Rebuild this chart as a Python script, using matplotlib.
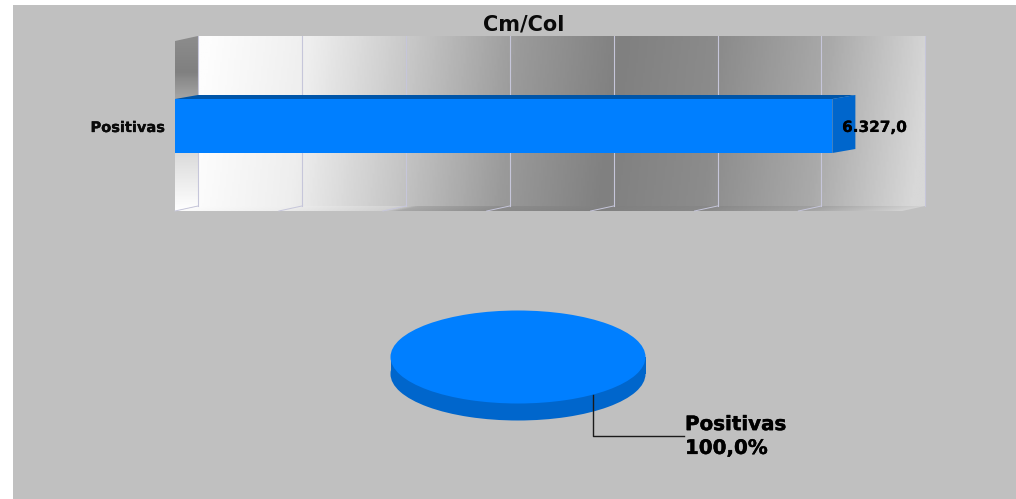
#!/usr/bin/env python3
import numpy as np
import matplotlib
matplotlib.use('Agg')
import matplotlib.pyplot as plt
import matplotlib.patheffects as pe
from matplotlib.colors import LinearSegmentedColormap
from matplotlib.patches import Polygon, Rectangle

plt.rcParams['font.family'] = 'DejaVu Sans'

# data
title = 'Cm/Col'
categories = ['Positivas']
values = [6327]
value_labels = ['6.327,0']
pie_labels = ['Positivas\n100,0%']
x_ticks = [0, 1000, 2000, 3000, 4000, 5000, 6000, 7000]

# colours
BG = '#c0c0c0'
BLUE = '#007fff'
BLUE_SIDE = '#0066cc'
BLUE_TOP = '#0055a8'
GRID = '#c6c6da'

W, H = 1016, 499
PX = 0.1039        # pixels per value unit on the bar axis
DEPTH_X, DEPTH_Y = 23, 4

fig = plt.figure(figsize=(W / 100, H / 100), dpi=100, facecolor='white')
heavy = [pe.withStroke(linewidth=0.3, foreground='black')]


def px_axes(left, top, right, bottom, **kw):
    """axes placed with picture pixels"""
    return fig.add_axes([left / W, 1 - bottom / H, (right - left) / W, (bottom - top) / H], **kw)


# background layer in pixel coordinates
bg = px_axes(0, 0, W, H)
bg.set_xlim(0, W)
bg.set_ylim(H, 0)
bg.axis('off')
bg.add_patch(Rectangle((13, 5), W - 13, H - 5, fc=BG, ec='none'))

wall_cmap = LinearSegmentedColormap.from_list('wall', [
    (0.0, '#fdfdfd'), (0.14, '#eeeeee'), (0.29, '#c4c4c4'), (0.43, '#9a9a9a'),
    (0.57, '#808080'), (0.71, '#8c8c8c'), (0.86, '#aaaaaa'), (1.0, '#d8d8d8')])
floor_cmap = LinearSegmentedColormap.from_list('floor', [
    (0.0, '#fdfdfd'), (0.14, '#eeeeee'), (0.29, '#d0d0d0'), (0.31, '#a8a8a8'), (0.43, '#8c8c8c'),
    (0.57, '#808080'), (0.71, '#888888'), (0.86, '#a4a4a4'), (1.0, '#d8d8d8')])
side_cmap = LinearSegmentedColormap.from_list('side', [
    (0.0, '#8c8c8c'), (0.2, '#808080'), (0.33, '#a0a0a0'),
    (0.65, '#d8d8d8'), (1.0, '#ffffff')])

gx = np.linspace(0, 1, 400)
gy = np.linspace(0, 1, 100)
grad = np.clip(gx[None, :] + 0.03 * (gy[:, None] - 0.5), 0, 1)

# back wall
bg.imshow(grad, extent=(198, 925, 206, 36), cmap=wall_cmap, vmin=0, vmax=1, aspect='auto', zorder=1)
# floor
floor = bg.imshow(grad, extent=(175, 925, 211, 206), cmap=floor_cmap, vmin=0, vmax=1, aspect='auto', zorder=1)
floor_clip = Polygon([(175, 211), (198, 206), (925, 206), (902, 211)], transform=bg.transData)
floor.set_clip_path(floor_clip)
# left wall
side = bg.imshow(gy[:, None], extent=(175, 198, 211, 36), cmap=side_cmap, vmin=0, vmax=1, aspect='auto', zorder=1)
side_clip = Polygon([(175, 41), (198, 36), (198, 206), (175, 211)], transform=bg.transData)
side.set_clip_path(side_clip)
bg.set_xlim(0, W)
bg.set_ylim(H, 0)

# bar axis, front plane
ax = px_axes(175, 36, 175 + 7000 * PX, 211)
ax.patch.set_alpha(0)
ax.set_xlim(0, 7000)
ax.set_ylim(-85 / 54, 90 / 54)
for s in ax.spines.values():
    s.set_visible(False)
ax.set_xticks([])
ax.set_yticks(range(len(categories)), categories, fontsize=10.5, fontweight='bold', color='#0a0a0a')
ax.tick_params(axis='y', length=0, pad=7)
for lbl in ax.get_yticklabels():
    lbl.set_path_effects([pe.withStroke(linewidth=0.2, foreground='black')])

dx = DEPTH_X / PX
dy = DEPTH_Y / 54

# grid lines on the wall and floor
for t in x_ticks:
    ax.plot([t + dx, t + dx], [-80 / 54, 90 / 54], color=GRID, lw=0.8, clip_on=False, zorder=1)
    if t < 7000:
        ax.plot([t, t + dx], [-85 / 54, -80 / 54], color=GRID, lw=0.7, clip_on=False, zorder=1)

for i, (v, lab) in enumerate(zip(values, value_labels)):
    ax.barh(i, v, height=1, color=BLUE, zorder=4)
    ax.add_patch(Polygon([(0, i + .5), (dx, i + .5 + dy), (v + dx, i + .5 + dy), (v, i + .5)],
                         fc=BLUE_TOP, ec='none', zorder=3, clip_on=False))
    ax.add_patch(Polygon([(v, i + .5), (v + dx, i + .5 + dy), (v + dx, i - .5 + dy), (v, i - .5)],
                         fc=BLUE_SIDE, ec='none', zorder=3, clip_on=False))
    ax.annotate(lab, (v, i), xytext=(7, -1), textcoords='offset points', va='center', ha='left',
                fontsize=11, fontweight='bold', color='black', zorder=5, annotation_clip=False,
                path_effects=[pe.withStroke(linewidth=0.2, foreground='black')])

fig.text(524 / W, 1 - 24 / H, title, ha='center', va='center', fontsize=15, fontweight='bold', color='#0a0a0a')

# pie: top ellipse 127.5 x 46.5 px around (518, 357), 17 px thick
RX, RY, THICK = 127.5, 46.5, 17
pie = px_axes(518 - RX, 357 - RY, 518 + RX, 357 + RY + THICK)
t = THICK / RY
pie.pie(values, colors=[BLUE_SIDE], radius=1, center=(0, -t), startangle=0)
pie.add_patch(Rectangle((-1, -t), 2, t, fc=BLUE_SIDE, ec='none'))
pie.pie(values, colors=[BLUE], radius=1, center=(0, 0), startangle=0)
pie.set_xlim(-1, 1)
pie.set_ylim(-1 - t, 1)
pie.set_aspect('auto')
pie.axis('off')

# leader line and label, anchored on the ellipse edge
angle = np.radians(-53.9)
ex, ey = 518 + RX * np.cos(angle), 357 - RY * np.sin(angle)
top = fig.add_axes([0, 0, 1, 1], frameon=False)
top.set_xlim(0, W)
top.set_ylim(H, 0)
top.axis('off')
top.plot([ex, ex, 684], [ey, 436, 436], color='#1a1a1a', lw=1)
top.text(685, 436.5, pie_labels[0], ha='left', va='center', fontsize=14.3, fontweight='bold',
         color='black', linespacing=1.32, path_effects=heavy)

fig.savefig('out.png', dpi=100, facecolor='white')
